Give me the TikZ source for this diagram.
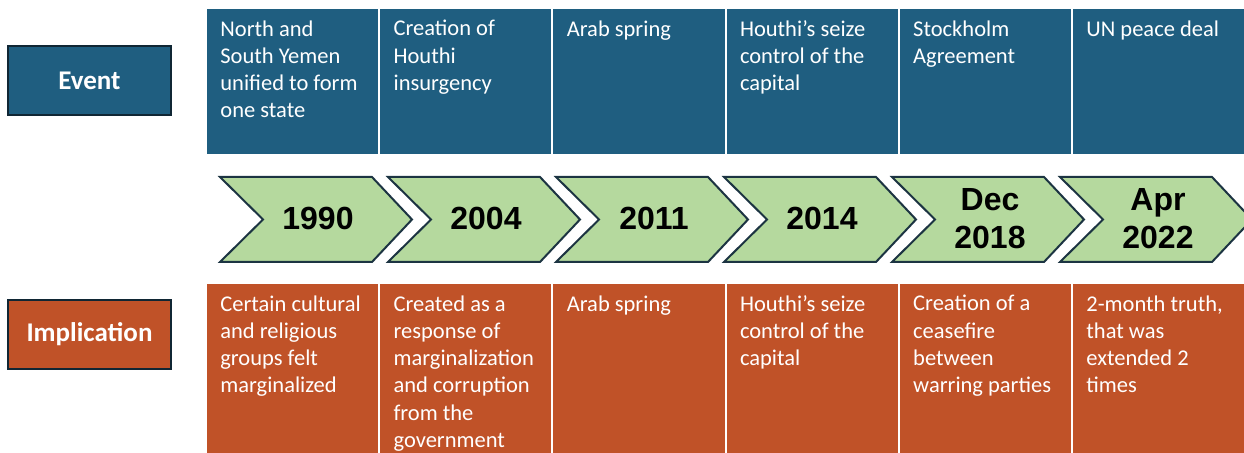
\documentclass[tikz,border=0pt]{standalone}
\usepackage{fontspec}
\setmainfont{Carlito}
\newfontfamily\yearfont{Liberation Sans}

\definecolor{eventblue}{RGB}{31,94,128}
\definecolor{implorange}{RGB}{192,82,40}
\definecolor{arrowgreen}{RGB}{181,217,158}
\definecolor{arrowedge}{RGB}{28,52,66}
\definecolor{labeledge}{RGB}{16,38,52}

\tikzset{
	cell/.style={draw=white, line width=1pt},
	celltext/.style={anchor=north west, inner sep=0pt, text=white, align=left,
		font=\fontsize{11.25}{13.65}\selectfont},
	rowlabel/.style={draw=labeledge, line width=1.2pt, minimum width=81.5pt,
		minimum height=34.5pt, text=white, font=\fontsize{13.5}{15}\selectfont\bfseries},
	chevron/.style={fill=arrowgreen, draw=arrowedge, line width=1pt, line join=miter},
	yeartext/.style={font=\yearfont\fontsize{16}{19}\selectfont\bfseries, align=center}
}

\begin{document}
\begin{tikzpicture}[x=0.5pt, y=-0.5pt]
	\useasboundingbox (0,0) rectangle (1244,453);
	% Zeilenbeschriftungen
	\node[rowlabel, fill=eventblue] (event) at (89.5, 80.5) {Event};
	\node[rowlabel, fill=implorange] (implication) at (89.5, 334.5) {Implication};

	% Ereignisse und Folgen
	\foreach \i/\ev/\im in {
		0/{North and\\South Yemen\\unified to form\\one state}/{Certain cultural\\and religious\\groups felt\\marginalized},
		1/{Creation of\\Houthi\\insurgency}/{Created as a\\response of\\marginalization\\and corruption\\from the\\government},
		2/{Arab spring}/{Arab spring},
		3/{Houthi’s seize\\control of the\\capital}/{Houthi’s seize\\control of the\\capital},
		4/{Stockholm\\Agreement}/{Creation of a\\ceasefire\\between\\warring parties},
		5/{UN peace deal}/{2-month truth,\\that was\\extended 2\\times}}
	{
		\pgfmathsetmacro{\cx}{206+\i*173.2}
		\filldraw[cell, fill=eventblue] (\cx, 8) rectangle ++(173.2, 147);
		\node[celltext] (ev\i) at (\cx+14, 20) {\ev};
		\filldraw[cell, fill=implorange] (\cx, 283) rectangle ++(173.2, 180);
		\node[celltext] (im\i) at (\cx+14, 295) {\im};
	}

	% Zeitstrahl
	\foreach \i/\yr in {0/1990, 1/2004, 2/2011, 3/2014, 4/{Dec\\2018}, 5/{Apr\\2022}}
	{
		\pgfmathsetmacro{\lx}{220+\i*168}
		\draw[chevron] (\lx, 177) -- ++(152, 0) -- ++(40, 42.5) -- ++(-40, 42.5)
			-- ++(-152, 0) -- ++(43, -42.5) -- cycle;
		\node[yeartext] (yr\i) at (\lx+98, 218.5) {\yr};
	}
\end{tikzpicture}
\end{document}
